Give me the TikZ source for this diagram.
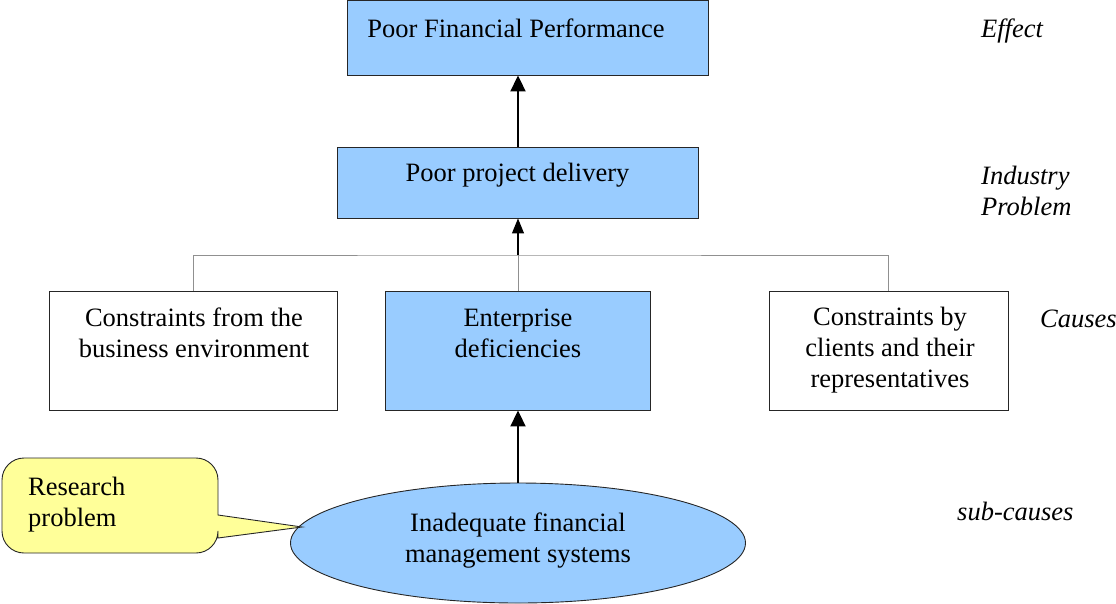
\documentclass[tikz,border=0pt]{standalone}
\usepackage{fontspec}
\setmainfont{Liberation Serif}
\usetikzlibrary{arrows.meta,shapes.geometric}
\definecolor{boxblue}{HTML}{99CCFF}
\definecolor{callyellow}{HTML}{FFFF99}
\definecolor{treegray}{HTML}{909090}
\tikzset{
  box/.style={draw=black!85, line width=0.9pt, rectangle, inner sep=0pt},
  bluebox/.style={box, fill=boxblue},
  whitebox/.style={box, fill=white},
  txt/.style={font=\fontsize{26.5}{31}\selectfont, align=center, inner sep=0pt},
  lbl/.style={font=\fontsize{26.5}{31}\selectfont\itshape, align=left, inner sep=0pt},
  tree/.style={draw=treegray, line width=0.9pt},
  uparrow/.style={draw=black, line width=2pt, -{Triangle[length=16pt,width=15pt]}},
  thinarrow/.style={draw=black, line width=1.1pt, -{Triangle[length=15pt,width=12pt]}},
}
\begin{document}
\begin{tikzpicture}[x=1pt,y=-1pt]
\useasboundingbox (0,0) rectangle (1116,603);
% boxes
\node[bluebox, minimum width=361pt, minimum height=75pt] (effect) at (527.5,37.5) {};
\node[txt] (effectT) at (516,28) {Poor Financial Performance};
\node[bluebox, minimum width=361pt, minimum height=71pt] (delivery) at (517.5,182.5) {};
\node[txt] (deliveryT) at (517.5,175) {Poor project delivery};
\node[whitebox, minimum width=288pt, minimum height=119pt] (env) at (193,350.5) {};
\node[txt] (envT) at (194,333) {Constraints from the\\business environment};
\node[bluebox, minimum width=265pt, minimum height=119pt] (ent) at (517.5,350.5) {};
\node[txt] (entT) at (518,333) {Enterprise\\deficiencies};
\node[whitebox, minimum width=239pt, minimum height=119pt] (cli) at (888.5,350.5) {};
\node[txt] (cliT) at (890,350) {Constraints by\\clients and their\\representatives};
% ellipse
\node[ellipse, draw=black!85, line width=0.9pt, fill=boxblue, minimum width=455pt, minimum height=120pt, inner sep=0pt] (fin) at (518,543) {};
\node[txt] (finT) at (518,541) {Inadequate financial\\management systems};
% callout
\coordinate (tip) at (302,527);
\draw[draw=black!85, line width=0.9pt, fill=callyellow]
  (218,515) [rounded corners=22pt] -- (218,458) -- (2,458) -- (2,553) -- (218,553) [sharp corners] -- (218,538) -- (tip) -- cycle;
\node[txt, align=left, anchor=west] (res) at (28,504.5) {Research\\problem};
% tree connectors
\coordinate (junc) at (518,255);
\draw[tree] (env.north) |- (junc) -| (cli.north);
\draw[tree] (junc |- ent.north) -- (junc);
\draw[thinarrow] (junc) -- (junc |- delivery.south);
\draw[uparrow] (junc |- delivery.north) -- (junc |- effect.south);
\draw[uparrow] (fin.north) -- (junc |- ent.south);
% level labels
\node[lbl, anchor=center] (lEffect) at (1012,31) {Effect};
\node[lbl, anchor=west] (lInd) at (981,191) {Industry\\Problem};
\node[lbl, anchor=west] (lCauses) at (1040,319) {Causes};
\node[lbl, anchor=west] (lSub) at (957,511) {sub-causes};
\end{tikzpicture}
\end{document}
